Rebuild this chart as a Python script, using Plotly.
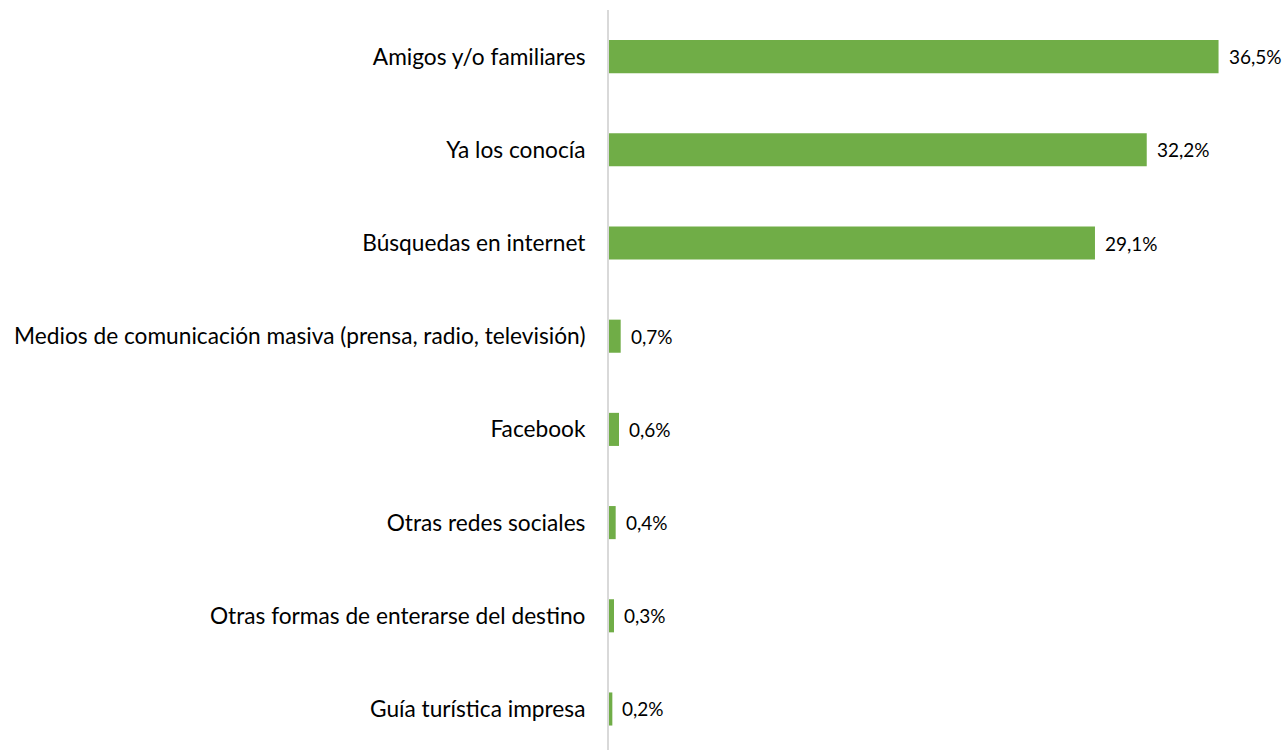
import plotly.graph_objects as go

categories = [
    "Amigos y/o familiares",
    "Ya los conocía",
    "Búsquedas en internet",
    "Medios de comunicación masiva (prensa, radio, televisión)",
    "Facebook",
    "Otras redes sociales",
    "Otras formas de enterarse del destino",
    "Guía turística impresa",
]
values = [36.5, 32.2, 29.1, 0.7, 0.6, 0.4, 0.3, 0.2]
value_labels = ["36,5%", "32,2%", "29,1%", "0,7%", "0,6%", "0,4%", "0,3%", "0,2%"]

FONT = "Lato"
fig = go.Figure()
fig.add_trace(go.Bar(
    x=values, y=categories, orientation="h",
    marker=dict(color="#70AD47", line=dict(width=0)),
    width=0.355,
))
for v, c, t in zip(values, categories, value_labels):
    fig.add_annotation(x=v, y=c, text=t, showarrow=False, xanchor="left",
                       xshift=8, font=dict(family=FONT, size=19, color="#000000"))

fig.update_layout(
    width=1286, height=750,
    margin=dict(l=609, r=9, t=10, b=0),
    plot_bgcolor="white", paper_bgcolor="white",
    showlegend=False,
    font=dict(family=FONT, size=22.7, color="#000000"),
    xaxis=dict(range=[0, 40], visible=False, showgrid=False, zeroline=False),
    yaxis=dict(range=[7.44, -0.5], showline=True, linecolor="#D9D9D9", linewidth=2,
               ticks="", showgrid=False, ticklabelstandoff=17,
               tickfont=dict(family=FONT, size=22.7, color="#000000")),
)
fig.write_html(
    "out.html",
    config={"displayModeBar": False},
    post_script="document.body.style.margin='0';document.body.style.overflow='hidden';",
)
